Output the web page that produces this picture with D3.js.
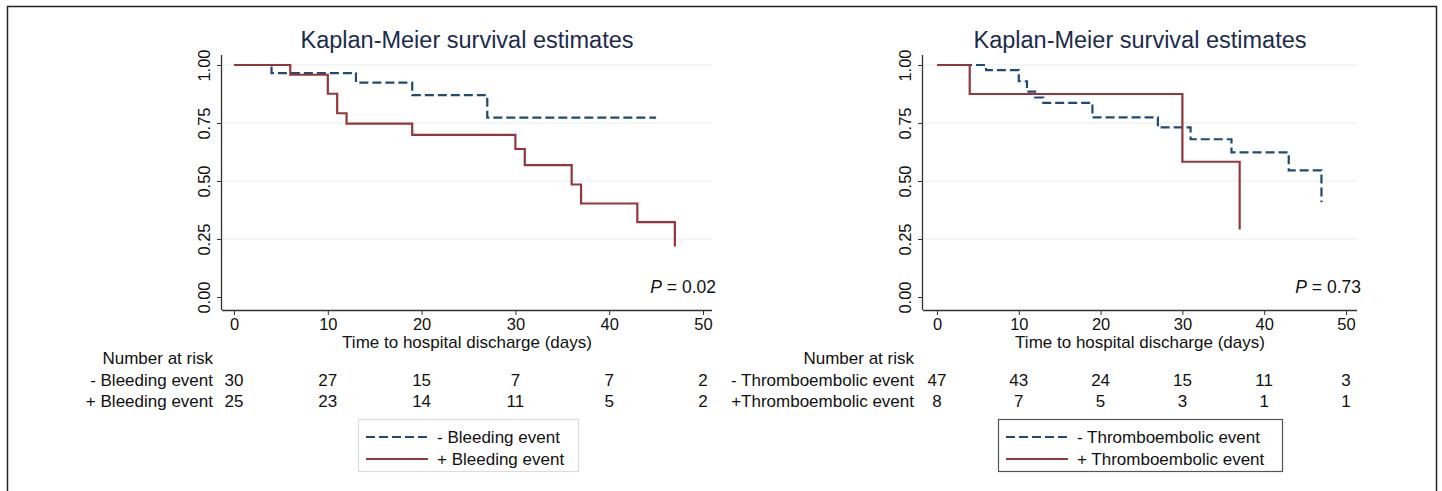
<!DOCTYPE html>
<html>
<head>
<meta charset="utf-8">
<script src="https://cdn.jsdelivr.net/npm/d3@7"></script>
<style>
  html, body { margin: 0; padding: 0; background: #fff; }
  svg { display: block; font-family: "Liberation Sans", Arial, Helvetica, sans-serif; }
</style>
</head>
<body>
<svg id="chart" width="1442" height="491"></svg>
<script>
// ---------- data ----------
const titleText = "Kaplan-Meier survival estimates";
const xAxisTitle = "Time to hospital discharge (days)";
const xTicks = [0, 10, 20, 30, 40, 50];
const yTicks = [0, 0.25, 0.5, 0.75, 1];
const yGrid = [0.25, 0.5, 0.75, 1];

// Left panel: bleeding event
const bleedNegLabel = "- Bleeding event";
const bleedPosLabel = "+ Bleeding event";
const bleedNegTimes = [0, 4, 13, 19, 27, 45];
const bleedNegSurv  = [1, 0.965, 0.924, 0.870, 0.773, 0.773];
const bleedPosTimes = [0, 6, 10, 11, 12, 19, 30, 31, 36, 37, 43, 47];
const bleedPosSurv  = [1, 0.958, 0.876, 0.792, 0.747, 0.699, 0.638, 0.568, 0.485, 0.403, 0.323, 0.218];
const bleedNegRisk = [30, 27, 15, 7, 7, 2];
const bleedPosRisk = [25, 23, 14, 11, 5, 2];
const bleedP = "0.02";

// Right panel: thromboembolic event
const thrNegLabel = "- Thromboembolic event";
const thrPosLabel = "+Thromboembolic event";
const thrNegLegend = "- Thromboembolic event";
const thrPosLegend = "+ Thromboembolic event";
const thrNegTimes = [0, 6, 10, 11, 12, 13, 19, 27, 31, 36, 43, 47];
const thrNegSurv  = [1, 0.978, 0.93, 0.885, 0.86, 0.837, 0.774, 0.731, 0.68, 0.623, 0.546, 0.408];
const thrPosTimes = [0, 4, 30, 37];
const thrPosSurv  = [1, 0.875, 0.583, 0.291];
const thrNegRisk = [47, 43, 24, 15, 11, 3];
const thrPosRisk = [8, 7, 5, 3, 1, 1];
const thrP = "0.73";

// ---------- styles ----------
const blue = "#1f4a72";
const red = "#94363c";
const gridColor = "#e6eef1";
const titleColor = "#1c2b4d";
const fs = 17;

const svg = d3.select("#chart");

// outer frame
svg.append("rect")
  .attr("x", 7.5).attr("y", 6.5)
  .attr("width", 1429).attr("height", 500)
  .attr("fill", "none").attr("stroke", "#222").attr("stroke-width", 1.5);

function panel(cfg) {
  const g = svg.append("g");
  const x = d3.scaleLinear().domain([0, 50]).range([cfg.x0, cfg.x50]);
  const y = d3.scaleLinear().domain([0, 1]).range([297, 65]);
  const plotTop = 55, plotBottom = 310;

  // title
  g.append("text").attr("x", (cfg.axisX + cfg.plotRight) / 2).attr("y", 48)
    .attr("text-anchor", "middle").attr("font-size", 23.5).attr("fill", titleColor)
    .text(titleText);

  // grid
  g.selectAll(".grid").data(yGrid).join("line")
    .attr("x1", cfg.axisX).attr("x2", cfg.plotRight)
    .attr("y1", d => y(d)).attr("y2", d => y(d))
    .attr("stroke", gridColor).attr("stroke-width", 1.2);

  // y axis
  const yAxis = d3.axisLeft(y).tickValues(yTicks).tickFormat(d3.format(".2f")).tickSize(5);
  const ya = g.append("g").attr("transform", `translate(${cfg.axisX},0)`).call(yAxis);
  ya.select(".domain").attr("d", `M-0.5,${plotTop}V${plotBottom}`).attr("stroke", "#333").attr("stroke-width", 1.3);
  ya.selectAll(".tick line").attr("stroke", "#333");
  ya.selectAll(".tick text")
    .attr("font-size", 16.5).attr("fill", "#111")
    .attr("x", 0).attr("dy", 0)
    .attr("text-anchor", "middle")
    .attr("transform", "translate(-12,0) rotate(-90)");
  ya.attr("font-family", null);

  // x axis
  const xAxis = d3.axisBottom(x).tickValues(xTicks).tickSize(5).tickPadding(3);
  const xa = g.append("g").attr("transform", `translate(0,${plotBottom})`).call(xAxis);
  xa.select(".domain").attr("d", `M${cfg.axisX},0.5H${cfg.plotRight}`).attr("stroke", "#333").attr("stroke-width", 1.3);
  xa.selectAll(".tick line").attr("stroke", "#333");
  xa.selectAll(".tick text").attr("font-size", 16.5).attr("fill", "#111");
  xa.attr("font-family", null);

  g.append("text").attr("x", (cfg.axisX + cfg.plotRight) / 2).attr("y", 348)
    .attr("text-anchor", "middle").attr("font-size", fs).attr("fill", "#111")
    .text(xAxisTitle);

  // curves
  const line = d3.line().x(d => x(d[0])).y(d => y(d[1])).curve(d3.curveStepAfter);
  const negData = cfg.negTimes.map((t, i) => [t, cfg.negSurv[i]]);
  const posData = cfg.posTimes.map((t, i) => [t, cfg.posSurv[i]]);
  g.append("path").datum(negData).attr("d", line)
    .attr("fill", "none").attr("stroke", blue).attr("stroke-width", 2.2)
    .attr("stroke-dasharray", "9,4");
  g.append("path").datum(posData).attr("d", line)
    .attr("fill", "none").attr("stroke", red).attr("stroke-width", 2.2);

  // P value
  const pt = g.append("text").attr("x", cfg.plotRight + 4).attr("y", 293)
    .attr("text-anchor", "end").attr("font-size", 17.5).attr("fill", "#111");
  pt.append("tspan").attr("font-style", "italic").text("P");
  pt.append("tspan").text(" = " + cfg.p);

  // number at risk
  const labX = cfg.axisX - 9;
  g.append("text").attr("x", labX).attr("y", 364).attr("text-anchor", "end")
    .attr("font-size", fs).attr("fill", "#111").text("Number at risk");
  const rows = [[cfg.negLabel, cfg.negRisk, 386], [cfg.posLabel, cfg.posRisk, 407]];
  rows.forEach(([lab, vals, yy]) => {
    g.append("text").attr("x", labX).attr("y", yy).attr("text-anchor", "end")
      .attr("font-size", fs).attr("fill", "#111").text(lab);
    g.selectAll(null).data(vals).join("text")
      .attr("x", (d, i) => x(xTicks[i])).attr("y", yy)
      .attr("text-anchor", "middle").attr("font-size", fs).attr("fill", "#111")
      .text(d => d);
  });

  // legend
  const lg = g.append("g");
  lg.append("rect").attr("x", cfg.legX + 0.5).attr("y", 419.5)
    .attr("width", cfg.legW).attr("height", 52)
    .attr("fill", "#fff").attr("stroke", cfg.legStroke).attr("stroke-width", 1.2);
  const items = [[cfg.negLegend, blue, "9,4", 437], [cfg.posLegend, red, null, 459]];
  items.forEach(([lab, col, dash, yy]) => {
    lg.append("line").attr("x1", cfg.legX + 8).attr("x2", cfg.legX + 70)
      .attr("y1", yy).attr("y2", yy).attr("stroke", col).attr("stroke-width", 2.2)
      .attr("stroke-dasharray", dash);
    lg.append("text").attr("x", cfg.legX + 79).attr("y", yy + 6)
      .attr("font-size", fs).attr("fill", "#111").text(lab);
  });
}

panel({
  axisX: 222, plotRight: 712, x0: 234, x50: 703,
  negTimes: bleedNegTimes, negSurv: bleedNegSurv,
  posTimes: bleedPosTimes, posSurv: bleedPosSurv,
  negRisk: bleedNegRisk, posRisk: bleedPosRisk,
  negLabel: bleedNegLabel, posLabel: bleedPosLabel,
  negLegend: bleedNegLabel, posLegend: bleedPosLabel,
  p: bleedP, legX: 358, legW: 220, legStroke: "#dcdcdc"
});

panel({
  axisX: 923, plotRight: 1357, x0: 937, x50: 1346,
  negTimes: thrNegTimes, negSurv: thrNegSurv,
  posTimes: thrPosTimes, posSurv: thrPosSurv,
  negRisk: thrNegRisk, posRisk: thrPosRisk,
  negLabel: thrNegLabel, posLabel: thrPosLabel,
  negLegend: thrNegLegend, posLegend: thrPosLegend,
  p: thrP, legX: 998, legW: 284, legStroke: "#555"
});
</script>
</body>
</html>
